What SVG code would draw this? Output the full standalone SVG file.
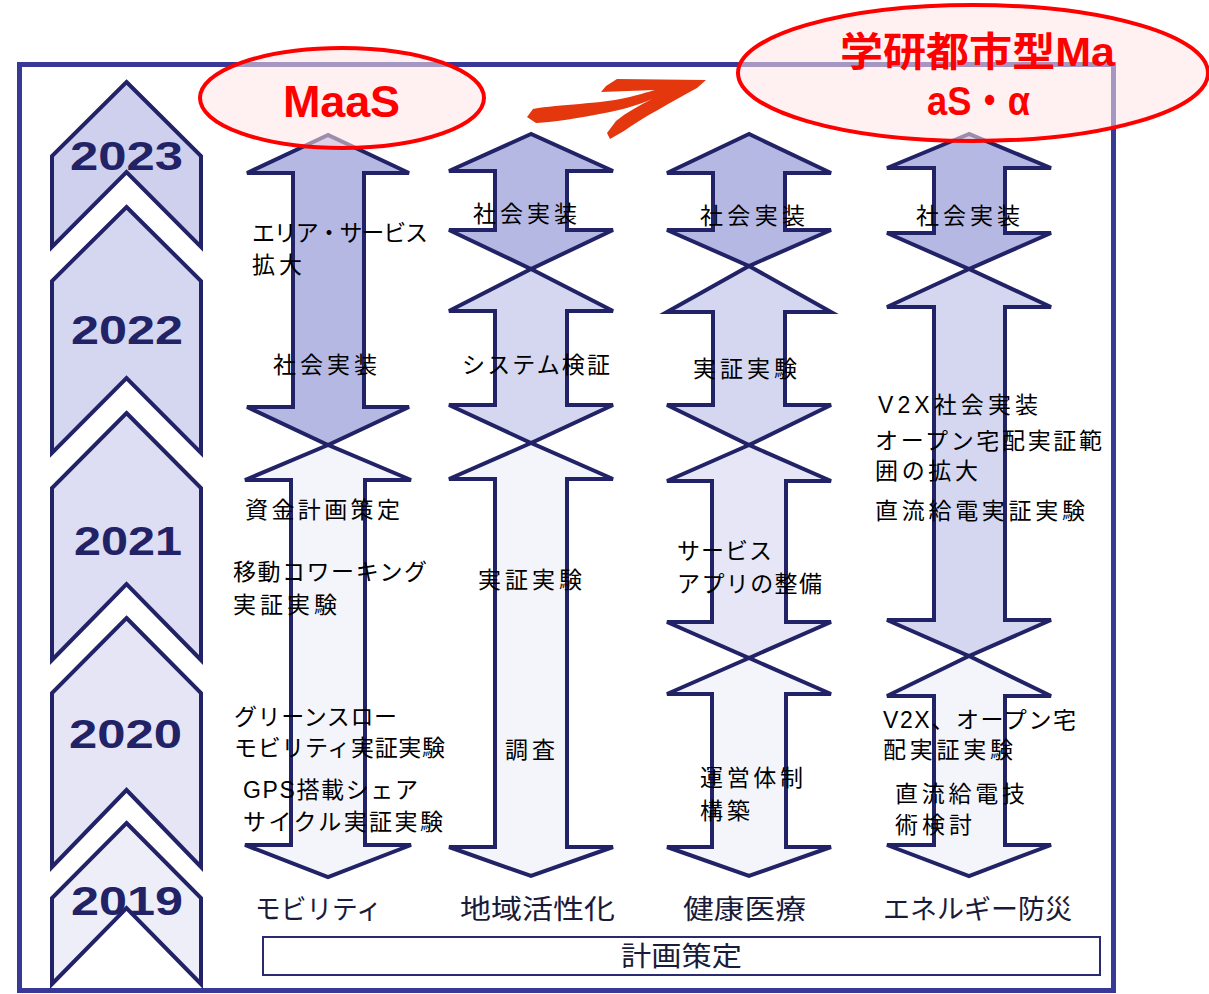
<svg xmlns="http://www.w3.org/2000/svg" width="1209" height="994" viewBox="0 0 1209 994">
<style>
.frame{fill:none;stroke:#383896;stroke-width:5}
.chev{stroke:#222266;stroke-width:4;stroke-linejoin:miter}
.yr{font-family:"Liberation Sans",Arial,sans-serif;font-weight:bold;font-size:40px;fill:#222266}
.arr{stroke:#222266;stroke-width:4;stroke-linejoin:miter}
.c1{fill:#B6B8E4}.c2{fill:#D5D6F0}.c3{fill:#E6E6F6}.c4{fill:#F4F4FB}
.t{font-family:"Liberation Sans","Noto Sans CJK JP",sans-serif;font-size:23px;fill:#000}
.lab{font-family:"Liberation Sans","Noto Sans CJK JP",sans-serif;font-size:27px;fill:#1a1a3a}
.ell{fill:#FFE6E6;fill-opacity:0.55;stroke:#FF0000;stroke-width:4}
.red{font-family:"Liberation Sans","Noto Sans CJK JP",sans-serif;font-weight:bold;fill:#FF0000}
</style>
<rect x="0" y="0" width="1209" height="994" fill="#ffffff"/>
<rect id="frame" class="frame" x="19.5" y="64.5" width="1094" height="926"/>

<g id="years">
  <g id="y2023"><polygon class="chev" fill="#CFD0EE" points="126.5,82 201,156 201,247 126.5,172 52,247 52,156"/>
    <text class="yr" x="70" y="170" textLength="113" lengthAdjust="spacingAndGlyphs">2023</text></g>
  <g id="y2022"><polygon class="chev" fill="#D5D6F0" points="126.5,207 201,281 201,453 126.5,378 52,453 52,281"/>
    <text class="yr" x="71" y="344" textLength="112" lengthAdjust="spacingAndGlyphs">2022</text></g>
  <g id="y2021"><polygon class="chev" fill="#DDDDF3" points="126.5,413 201,488 201,660 126.5,584 52,660 52,488"/>
    <text class="yr" x="74" y="555" textLength="108" lengthAdjust="spacingAndGlyphs">2021</text></g>
  <g id="y2020"><polygon class="chev" fill="#E5E5F6" points="126.5,618 201,693 201,867 126.5,790 52,867 52,693"/>
    <text class="yr" x="69" y="748" textLength="113" lengthAdjust="spacingAndGlyphs">2020</text></g>
  <g id="y2019"><polygon class="chev" fill="#EEEEF9" points="126.5,823 201,898 201,984 126.5,908 52,984 52,898"/>
    <text class="yr" x="71" y="915" textLength="112" lengthAdjust="spacingAndGlyphs">2019</text></g>
</g>

<g id="connectors">
  <polygon class="arr c1" points="328,135 247,173 293,173 293,407 247,407 328,445 409,407 364,407 364,173 409,173"/>
  <polygon class="arr c4" points="328,445 245,480 291,480 291,845 245,845 328,877 411,845 365,845 365,480 411,480"/>
  <polygon class="arr c1" points="531,134 449,171 495,171 495,230 449,230 531,269 613,230 567,230 567,171 613,171"/>
  <polygon class="arr c2" points="531,269 449,311 495,311 495,405 449,405 531,443 613,405 567,405 567,311 613,311"/>
  <polygon class="arr c4" points="531,443 449,479 495,479 495,847 449,847 531,876 613,847 567,847 567,479 613,479"/>
  <polygon class="arr c1" points="749,134 667,173 713,173 713,230 667,230 749,266 831,230 785,230 785,173 831,173"/>
  <polygon class="arr c2" points="749,266 667,312 713,312 713,405 667,405 749,445 831,405 785,405 785,312 831,312"/>
  <polygon class="arr c3" points="749,445 667,481 712,481 712,622 667,622 749,658 831,622 786,622 786,481 831,481"/>
  <polygon class="arr c4" points="749,658 667,694 712,694 712,847 667,847 749,876 831,847 786,847 786,694 831,694"/>
  <polygon class="arr c1" points="969,134 887,168 934,168 934,233 887,233 969,269 1051,233 1005,233 1005,168 1051,168"/>
  <polygon class="arr c2" points="969,269 887,307 934,307 934,620 887,620 969,656 1051,620 1005,620 1005,307 1051,307"/>
  <polygon class="arr c4" points="969,656 887,696 934,696 934,845 887,845 969,876 1051,845 1005,845 1005,696 1051,696"/>
</g>

<g id="col-mobility">
  <text class="t" x="252" y="241" textLength="176">エリア・サービス</text>
  <text class="t" x="252" y="273" textLength="50">拡大</text>
  <text class="t" x="273" y="373" textLength="104">社会実装</text>
  <text class="t" x="245" y="518" textLength="155">資金計画策定</text>
  <text class="t" x="233" y="580" textLength="194">移動コワーキング</text>
  <text class="t" x="233" y="613" textLength="104">実証実験</text>
  <text class="t" x="234" y="725" textLength="163">グリーンスロー</text>
  <text class="t" x="234" y="756" textLength="211">モビリティ実証実験</text>
  <text class="t" x="243" y="798" textLength="175">GPS搭載シェア</text>
  <text class="t" x="243" y="830" textLength="200">サイクル実証実験</text>
</g>
<g id="col-region">
  <text class="t" x="473" y="222" textLength="104">社会実装</text>
  <text class="t" x="462" y="373" textLength="148">システム検証</text>
  <text class="t" x="478" y="588" textLength="104">実証実験</text>
  <text class="t" x="505" y="758" textLength="50">調査</text>
</g>
<g id="col-health">
  <text class="t" x="700" y="224" textLength="105">社会実装</text>
  <text class="t" x="693" y="377" textLength="104">実証実験</text>
  <text class="t" x="677" y="559" textLength="95">サービス</text>
  <text class="t" x="677" y="592" textLength="145">アプリの整備</text>
  <text class="t" x="700" y="786" textLength="103">運営体制</text>
  <text class="t" x="700" y="819" textLength="50">構築</text>
</g>
<g id="col-energy">
  <text class="t" x="916" y="224" textLength="104">社会実装</text>
  <text class="t" x="878" y="413" textLength="160">V2X社会実装</text>
  <text class="t" x="875" y="449" textLength="227">オープン宅配実証範</text>
  <text class="t" x="875" y="479" textLength="103">囲の拡大</text>
  <text class="t" x="875" y="519" textLength="210">直流給電実証実験</text>
  <text class="t" x="883" y="728" textLength="193">V2X、オープン宅</text>
  <text class="t" x="883" y="758" textLength="130">配実証実験</text>
  <text class="t" x="895" y="802" textLength="130">直流給電技</text>
  <text class="t" x="895" y="833" textLength="77">術検討</text>
</g>

<g id="labels">
  <text class="lab" x="255" y="919" textLength="127" lengthAdjust="spacingAndGlyphs">モビリティ</text>
  <text class="lab" x="460" y="919" textLength="155" lengthAdjust="spacingAndGlyphs">地域活性化</text>
  <text class="lab" x="683" y="919" textLength="123" lengthAdjust="spacingAndGlyphs">健康医療</text>
  <text class="lab" x="883" y="919" textLength="189" lengthAdjust="spacingAndGlyphs">エネルギー防災</text>
</g>
<g id="plan">
  <rect x="263" y="937" width="837" height="38" fill="#ffffff" stroke="#2a2a70" stroke-width="2"/>
  <text class="lab" x="621" y="966" textLength="121" lengthAdjust="spacingAndGlyphs">計画策定</text>
</g>

<g id="maas">
  <ellipse class="ell" cx="342" cy="98" rx="142" ry="50"/>
  <text class="red" x="283" y="117" font-size="45" textLength="117">MaaS</text>
</g>
<g id="brush">
  <path fill="#E5370E" d="M527 117 L533 109 C560 104 600 104 625 98 C638 95 648 92 655 90 L601 92 L606 86 L617 79 L706 80 L697 88 C672 102 642 118 624 131 L610 139 L607 133 L616 121 C627 112 640 105 652 99 C638 105 625 109 605 113 C580 118 555 122 536 123 Z"/>
</g>
<g id="maas-alpha">
  <ellipse class="ell" cx="973" cy="73" rx="235" ry="68"/>
  <text class="red" x="840" y="66" font-size="40" textLength="275" lengthAdjust="spacingAndGlyphs">学研都市型Ma</text>
  <text class="red" x="927" y="115" font-size="40" textLength="103" lengthAdjust="spacingAndGlyphs">aS・α</text>
</g>
</svg>
